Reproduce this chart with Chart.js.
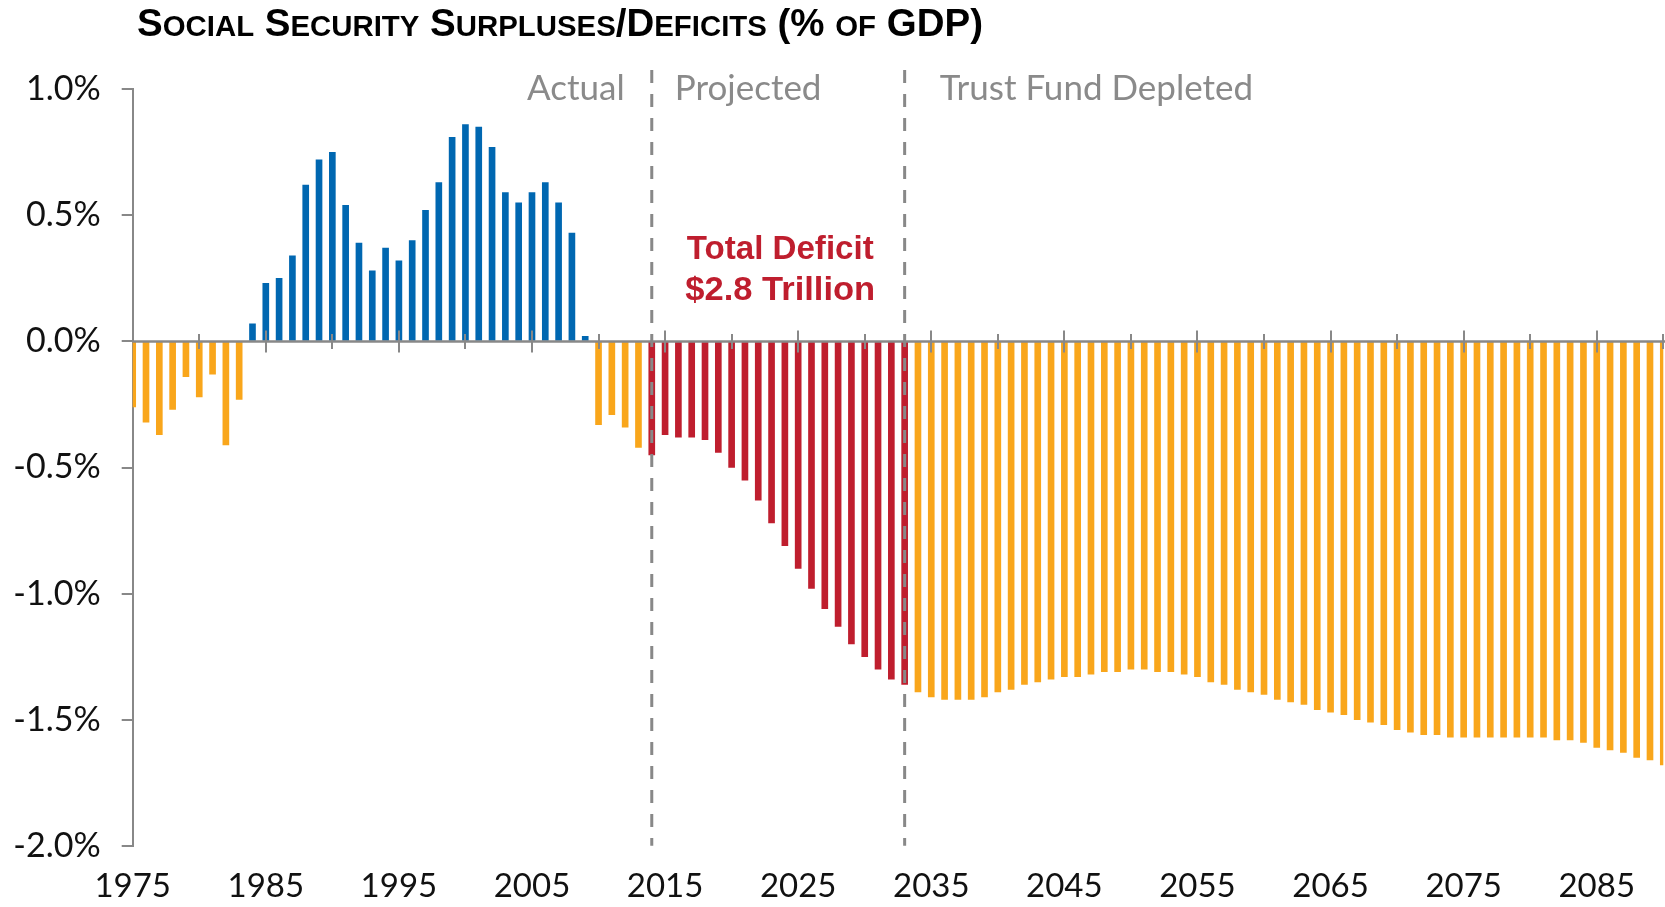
<!DOCTYPE html>
<html><head><meta charset="utf-8">
<script src="https://cdn.jsdelivr.net/npm/chart.js@4.4.1/dist/chart.umd.min.js"></script>
<style>
html,body{margin:0;padding:0;background:#fff;}
#wrap{position:relative;width:1665px;height:907px;overflow:hidden;background:#fff;}
#title{position:absolute;left:137px;top:4px;font-family:'Liberation Sans','Arial',sans-serif;font-weight:bold;font-size:38px;line-height:38px;white-space:nowrap;transform-origin:0 0;color:#000;}
#title .sc{font-size:29px;text-transform:uppercase;}
canvas{position:absolute;left:0;top:0;}
</style></head><body>
<div id="wrap"><canvas id="c" width="1665" height="907"></canvas><div id="title">S<span class="sc">ocial</span> S<span class="sc">ecurity</span> S<span class="sc">urpluses</span>/D<span class="sc">eficits</span> (% <span class="sc">of</span> GDP)</div></div>
<script>
// ---- data ----
const startYear = 1975, endYear = 2090;
const years = [];
for (let y = startYear; y <= endYear; y++) years.push(String(y));

// 1975-2013 (actual)
const actualValues = [-0.26,-0.32,-0.37,-0.27,-0.14,-0.22,-0.13,-0.41,-0.23,0.07,
  0.23,0.25,0.34,0.62,0.72,0.75,0.54,0.39,0.28,0.37,
  0.32,0.40,0.52,0.63,0.81,0.86,0.85,0.77,0.59,0.55,
  0.59,0.63,0.55,0.43,0.02,-0.33,-0.29,-0.34,-0.42];
// 2014-2033 (projected, until trust fund depletion)
const projectedValues = [-0.45,-0.37,-0.38,-0.38,-0.39,-0.44,-0.50,-0.55,-0.63,-0.72,
  -0.81,-0.90,-0.98,-1.06,-1.13,-1.20,-1.25,-1.30,-1.34,-1.36];
// 2034-2090 (trust fund depleted)
const depletedValues = [-1.39,-1.41,-1.42,-1.42,-1.42,-1.41,-1.39,-1.38,-1.36,-1.35,
  -1.34,-1.33,-1.33,-1.32,-1.31,-1.31,-1.30,-1.30,-1.31,-1.31,
  -1.32,-1.33,-1.35,-1.36,-1.38,-1.39,-1.40,-1.42,-1.43,-1.44,
  -1.46,-1.47,-1.48,-1.50,-1.51,-1.52,-1.54,-1.55,-1.56,-1.56,
  -1.57,-1.57,-1.57,-1.57,-1.57,-1.57,-1.57,-1.57,-1.58,-1.58,
  -1.59,-1.61,-1.62,-1.63,-1.65,-1.66,-1.68];

const yTicks = [1.0, 0.5, 0.0, -0.5, -1.0, -1.5, -2.0];
const xLabelYears = ['1975','1985','1995','2005','2015','2025','2035','2045','2055','2065','2075','2085'];
const minorTickYears = ['1980','1990','2000','2010','2020','2030','2040','2050','2060','2070','2080','2090'];
const dividerYears = ['2014','2033'];
const regionLabels = ['Actual','Projected','Trust Fund Depleted'];
const deficitNote = ['Total Deficit','$2.8 Trillion'];

// ---- styles ----
const BLUE = '#0067B1', ORANGE = '#F9A61B', RED = '#BF1E2E', GRAY = '#8a8a8a', AXIS = '#888888';

const toPts = (arr, first) => arr.map((v, i) => ({x: years[years.indexOf(first) + i], y: v}));

const overlay = {
  id: 'overlay',
  afterDatasetsDraw(chart) {
    const xs = chart.scales.x, ys = chart.scales.y, ca = chart.chartArea, ctx = chart.ctx;
    const y0 = ys.getPixelForValue(0);
    const px = yr => xs.getPixelForValue(years.indexOf(yr));
    ctx.save();
    // zero line
    ctx.strokeStyle = AXIS; ctx.lineWidth = 2.5;
    ctx.beginPath(); ctx.moveTo(ca.left, y0); ctx.lineTo(ca.right + 2, y0); ctx.stroke();
    // tick marks on zero line
    ctx.lineWidth = 2;
    xLabelYears.concat(minorTickYears).forEach(yr => {
      if (yr === '1975') return;
      const long = xLabelYears.includes(yr);
      const h = long ? 11 : 7.5;
      const x = Math.round(px(yr));
      ctx.beginPath(); ctx.moveTo(x, y0 - h); ctx.lineTo(x, y0 + h); ctx.stroke();
    });
    // dashed dividers
    ctx.lineWidth = 3; ctx.setLineDash([13, 11]);
    dividerYears.forEach(yr => {
      const x = px(yr);
      ctx.beginPath(); ctx.moveTo(x, 70); ctx.lineTo(x, ca.bottom); ctx.stroke();
    });
    ctx.setLineDash([]);
    // region labels
    const d1 = px(dividerYears[0]), d2 = px(dividerYears[1]);
    ctx.fillStyle = GRAY; ctx.font = '35px Lato'; ctx.textBaseline = 'alphabetic';
    ctx.textAlign = 'right'; ctx.fillText(regionLabels[0], d1 - 27, 100);
    ctx.textAlign = 'left'; ctx.fillText(regionLabels[1], d1 + 23, 100);
    ctx.fillText(regionLabels[2], d2 + 35, 100);
    // deficit note
    const cx = (d1 + d2) / 2 + 2;
    ctx.fillStyle = RED; ctx.font = 'bold 33px "Liberation Sans"';
    const fit = (t, x, y, w) => {
      const m = ctx.measureText(t).width;
      ctx.save(); ctx.translate(x, y); ctx.scale(w / m, 1); ctx.textAlign = 'center'; ctx.fillText(t, 0, 0); ctx.restore();
    };
    fit(deficitNote[0], cx, 259, 187);
    fit(deficitNote[1], cx, 300, 190);
    ctx.restore();
  }
};

new Chart(document.getElementById('c'), {
  type: 'bar',
  data: {
    labels: years,
    datasets: [
      {data: toPts(actualValues, '1975'), backgroundColor: c => (c.parsed && c.parsed.y >= 0) ? BLUE : ORANGE},
      {data: toPts(projectedValues, '2014'), backgroundColor: RED},
      {data: toPts(depletedValues, '2034'), backgroundColor: ORANGE}
    ]
  },
  options: {
    responsive: false, animation: false,
    layout: {padding: {top: 89.3, right: 1.7, bottom: 0, left: 0}},
    plugins: {legend: {display: false}, tooltip: {enabled: false}, title: {display: false}},
    datasets: {bar: {grouped: false, barThickness: 6, clip: 0, borderWidth: 0}},
    scales: {
      x: {
        type: 'category', offset: false,
        grid: {display: false, drawTicks: false}, border: {display: false},
        ticks: {autoSkip: false, maxRotation: 0, minRotation: 0, padding: 21, color: '#111',
          font: {family: 'Lato', size: 33},
          callback: (v, i) => xLabelYears.includes(years[i]) ? years[i] : ''},
        afterFit: s => { s.height = 61.3; s.paddingLeft = 0; s.paddingRight = 0; }
      },
      y: {
        min: -2, max: 1,
        afterBuildTicks: s => { s.ticks = yTicks.map(v => ({value: v})); },
        ticks: {padding: 21, color: '#111', font: {family: 'Lato', size: 34},
          callback: v => v.toFixed(1) + '%'},
        grid: {drawOnChartArea: false, drawTicks: true, tickLength: 11, tickColor: AXIS, lineWidth: 2, color: AXIS},
        border: {display: true, color: AXIS, width: 2},
        afterFit: s => { s.width = 132.7; }
      }
    }
  },
  plugins: [overlay]
});

// fit title width
const t = document.getElementById('title');
const w = t.getBoundingClientRect().width;
t.style.transform = 'scaleX(' + (846 / w) + ')';
</script>
</body></html>
